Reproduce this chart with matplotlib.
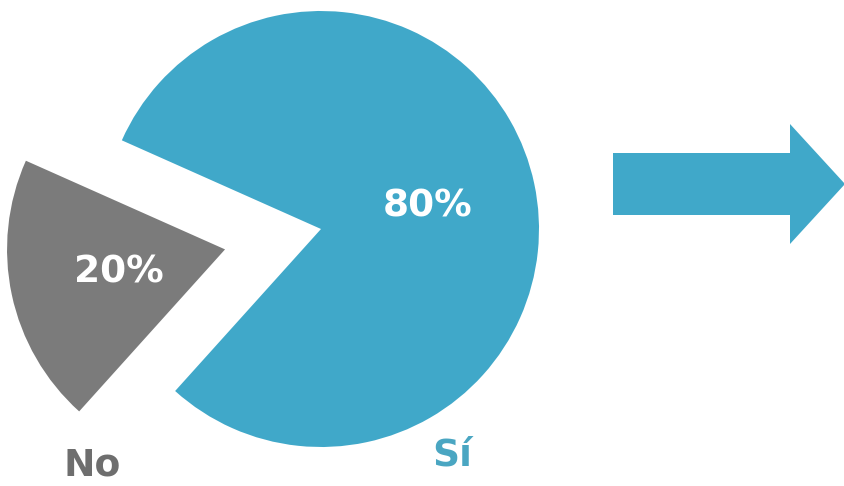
import matplotlib
matplotlib.use("Agg")
import matplotlib.pyplot as plt
from matplotlib.patches import FancyArrow

# Survey answer shares
categories = ["Sí", "No"]
shares = [80, 20]

BLUE = "#40a8c9"
GRAY = "#7b7b7b"
LABEL_COLORS = ["#4aa6c2", "#6e6e6e"]

W, H = 845, 486
fig = plt.figure(figsize=(W / 100, H / 100), dpi=100)
ax = fig.add_axes([0, 0, 1, 1])

# Pie laid out in pixel-like data units (explode is in data units too)
cx, cy, r = 321, H - 229, 218
wedges, texts, autotexts = ax.pie(
    shares,
    colors=[BLUE, GRAY],
    explode=[0, 0.45 * r],
    startangle=228,
    counterclock=True,
    center=(cx, cy),
    radius=r,
    autopct=lambda p: f"{p:.0f}%",
    pctdistance=0.5,
    textprops=dict(color="white", fontsize=27, fontweight="bold",
                   family="DejaVu Sans"),
    wedgeprops=dict(linewidth=0),
)

# Category names under the pie
label_pos = {"Sí": (452, H - 456), "No": (92, H - 465)}
for name, col in zip(categories, LABEL_COLORS):
    x, y = label_pos[name]
    ax.text(x, y, name, color=col, fontsize=27, fontweight="bold",
            family="DejaVu Sans", ha="center", va="center")

# Arrow pointing right
ax.add_patch(FancyArrow(613, H - 184, 232, 0, width=62, head_width=120,
                        head_length=55, length_includes_head=True,
                        color=BLUE, linewidth=0))

ax.set_xlim(0, W)
ax.set_ylim(0, H)
ax.set_aspect("equal")
ax.axis("off")

fig.savefig("out.png", dpi=100)
